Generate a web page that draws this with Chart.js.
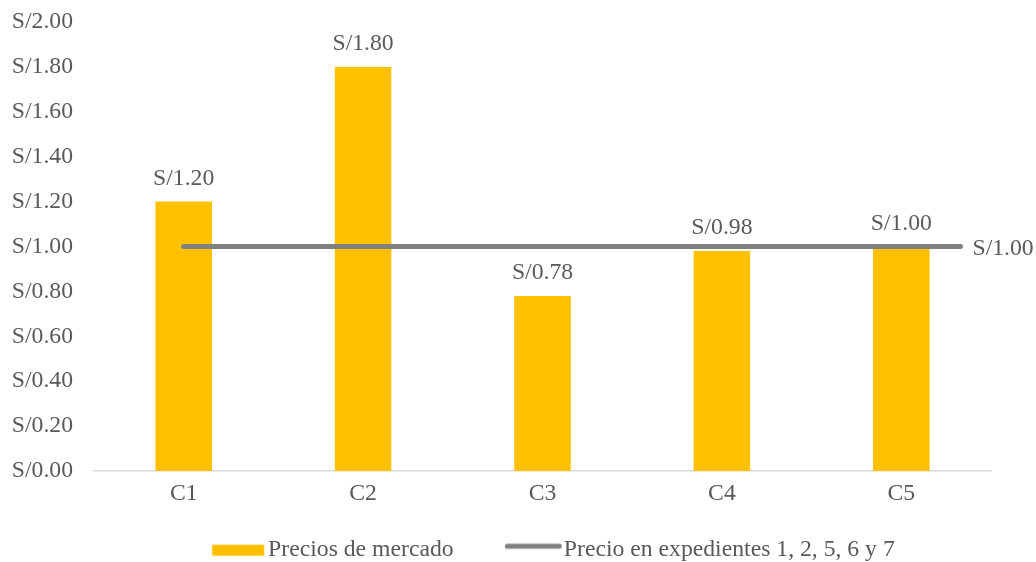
<!DOCTYPE html>
<html>
<head>
<meta charset="utf-8">
<script src="https://cdn.jsdelivr.net/npm/chart.js@4.4.0/dist/chart.umd.min.js"></script>
<style>
  html, body { margin: 0; padding: 0; background: #ffffff; }
  #wrap { width: 1036px; height: 562px; }
</style>
</head>
<body>
<div id="wrap"><canvas id="c" width="1036" height="562"></canvas></div>
<script>
// ---- data ----
const categories = ['C1', 'C2', 'C3', 'C4', 'C5'];
const marketPrices = [1.20, 1.80, 0.78, 0.98, 1.00];
const refLineX = [0, 1, 2, 3, 4, 4.33];
const refLineY = [1.00, 1.00, 1.00, 1.00, 1.00, 1.00];
const yTickValues = [0, 0.2, 0.4, 0.6, 0.8, 1.0, 1.2, 1.4, 1.6, 1.8, 2.0];
const yTickLabels = ['S/0.00', 'S/0.20', 'S/0.40', 'S/0.60', 'S/0.80', 'S/1.00', 'S/1.20', 'S/1.40', 'S/1.60', 'S/1.80', 'S/2.00'];
const seriesNames = ['Precios de mercado', 'Precio en expedientes 1, 2, 5, 6 y 7'];

// ---- styles ----
const FONT = '"Liberation Serif", "Times New Roman", serif';
const FS = 23.7;
const TEXT = '#595959';
const BAR_COLOR = '#FFC000';
const LINE_COLOR = '#808080';
const LINE_W = 5;
const fmt = v => 'S/' + v.toFixed(2);

// legend swatch images (drawn relative to the legend box centre)
function makeSwatch(kind, left, right, dy, thick, color) {
  const hw = Math.ceil(Math.max(Math.abs(left), Math.abs(right)) + 4);
  const hh = Math.ceil(Math.abs(dy) + thick + 4);
  const cv = document.createElement('canvas');
  cv.width = hw * 2; cv.height = hh * 2;
  const g = cv.getContext('2d');
  if (kind === 'rect') {
    g.fillStyle = color;
    g.fillRect(hw + left, hh + dy - thick / 2, right - left, thick);
  } else {
    g.strokeStyle = color;
    g.lineWidth = thick;
    g.lineCap = 'round';
    g.beginPath();
    g.moveTo(hw + left, hh + dy);
    g.lineTo(hw + right, hh + dy);
    g.stroke();
  }
  return cv;
}
const barSwatch = makeSwatch('rect', -11.15, 40.85, 0, 11, BAR_COLOR);
const lineSwatch = makeSwatch('line', -11.65, 40.35, -4, LINE_W, LINE_COLOR);

const valueLabels = {
  id: 'valueLabels',
  afterDatasetsDraw(chart) {
    const ctx = chart.ctx;
    ctx.save();
    ctx.font = FS + 'px ' + FONT;
    ctx.fillStyle = TEXT;
    ctx.textAlign = 'center';
    ctx.textBaseline = 'alphabetic';
    chart.getDatasetMeta(0).data.forEach((el, i) => {
      ctx.fillText(fmt(marketPrices[i]), el.x, el.y - 16.5);
    });
    const lm = chart.getDatasetMeta(1).data;
    const li = lm.length - 1;
    ctx.textAlign = 'left';
    ctx.fillText(fmt(refLineY[li]), lm[li].x + 12, lm[li].y + 8);
    ctx.restore();
  }
};

new Chart(document.getElementById('c'), {
  type: 'bar',
  data: {
    labels: categories,
    datasets: [
      {
        type: 'bar',
        label: seriesNames[0],
        data: marketPrices,
        backgroundColor: BAR_COLOR,
        borderWidth: 0,
        grouped: false,
        categoryPercentage: 1,
        barPercentage: 0.315,
        order: 1
      },
      {
        type: 'line',
        label: seriesNames[1],
        data: refLineX.map((x, i) => ({ x: x, y: refLineY[i] })),
        xAxisID: 'x2',
        borderColor: LINE_COLOR,
        backgroundColor: LINE_COLOR,
        borderWidth: LINE_W,
        borderCapStyle: 'round',
        pointRadius: 0,
        pointHoverRadius: 0,
        tension: 0,
        fill: false,
        order: 0
      }
    ]
  },
  options: {
    responsive: false,
    animation: false,
    events: [],
    layout: { padding: { top: 22, right: 45, bottom: 0, left: 0 } },
    scales: {
      x: {
        type: 'category',
        offset: true,
        grid: { display: false, drawTicks: false },
        border: { display: true, color: '#D9D9D9', width: 1.5 },
        ticks: { color: TEXT, font: { family: FONT, size: FS }, padding: 9, maxRotation: 0 },
        afterFit(s) { s.height = 35; s.paddingLeft = 0; s.paddingRight = 0; }
      },
      x2: {
        type: 'linear',
        display: false,
        offset: false,
        grid: { offset: false },
        min: -0.5,
        max: 4.5
      },
      y: {
        min: 0,
        max: 2,
        grid: { display: false, drawTicks: false },
        border: { display: false },
        afterBuildTicks(s) { s.ticks = yTickValues.map(v => ({ value: v })); },
        ticks: {
          color: TEXT,
          font: { family: FONT, size: FS },
          padding: 21,
          callback: (v, i) => yTickLabels[i]
        },
        afterFit(s) { s.width = 94; s.paddingTop = 0; s.paddingBottom = 0; }
      }
    },
    plugins: {
      tooltip: { enabled: false },
      legend: {
        position: 'bottom',
        fullSize: false,
        maxHeight: 56,
        labels: {
          usePointStyle: true,
          pointStyleWidth: 66,
          boxHeight: 11,
          padding: 32.4,
          color: TEXT,
          font: { family: FONT, size: FS },
          sort: (a, b) => a.datasetIndex - b.datasetIndex,
          generateLabels(chart) {
            const items = Chart.defaults.plugins.legend.labels.generateLabels(chart);
            items.forEach(it => {
              it.pointStyle = it.datasetIndex === 0 ? barSwatch : lineSwatch;
            });
            return items;
          }
        }
      }
    }
  },
  plugins: [valueLabels]
});
</script>
</body>
</html>
